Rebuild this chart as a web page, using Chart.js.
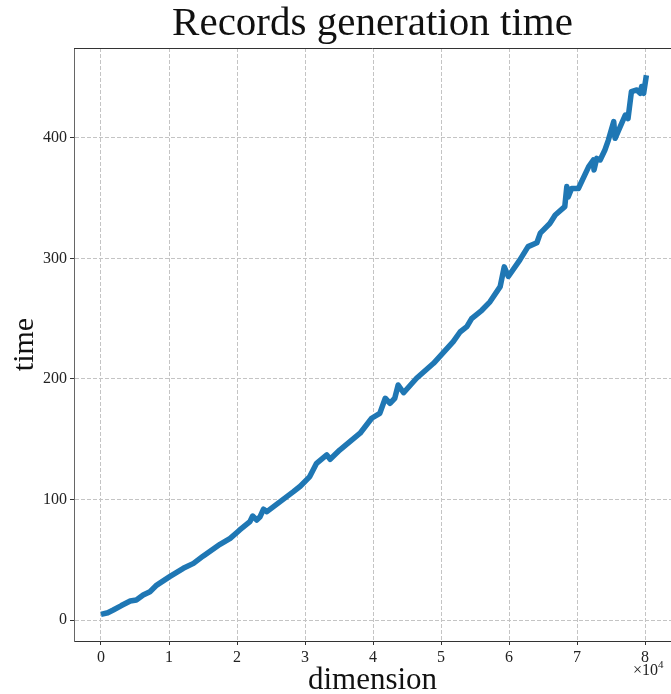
<!DOCTYPE html>
<html lang="en">
<head>
    <meta charset="UTF-8">
    <title>Records generation time</title>
    <script src="https://cdn.jsdelivr.net/npm/chart.js"></script>
    <style>
        body { margin: 0; padding: 0; background: #fff; }
        #wrap { width: 671px; height: 694px; position: relative; }
    </style>
</head>
<body>
    <div id="wrap"><canvas id="myChart"></canvas></div>

    <script>
        // datos (dimension en unidades de 10^4)
        var dimension = [0.00, 0.10, 0.18, 0.30, 0.43, 0.52, 0.62, 0.72, 0.82, 1.01,
            1.21, 1.36, 1.50, 1.75, 1.90, 2.04, 2.19, 2.23, 2.29, 2.34,
            2.39, 2.44, 2.63, 2.83, 2.93, 3.07, 3.17, 3.32, 3.37, 3.51,
            3.81, 3.98, 4.10, 4.18, 4.25, 4.32, 4.37, 4.45, 4.64, 4.89,
            5.18, 5.28, 5.38, 5.45, 5.60, 5.72, 5.87, 5.93, 5.99, 6.16,
            6.28, 6.41, 6.46, 6.60, 6.68, 6.82, 6.85, 6.87, 6.92, 7.02,
            7.17, 7.24, 7.25, 7.29, 7.34, 7.41, 7.46, 7.54, 7.56, 7.71,
            7.75, 7.80, 7.88, 7.93, 7.95, 7.98, 8.02];
        var time = [4.7, 6.0, 8.3, 12.0, 15.8, 16.6, 20.7, 23.5, 29.0, 36.0,
            42.9, 47.0, 53.0, 62.8, 67.8, 74.7, 81.6, 86.3, 83.0, 85.7,
            92.0, 89.9, 98.0, 106.5, 111.0, 119.0, 130.0, 137.0, 133.4, 141.0,
            155.0, 167.4, 171.5, 184.0, 179.8, 184.0, 195.0, 188.6, 200.6, 213.0,
            231.0, 239.0, 243.4, 250.0, 257.0, 264.0, 276.6, 293.0, 285.0, 298.8,
            309.8, 313.0, 321.0, 329.0, 336.0, 343.0, 359.6, 351.0, 358.0, 358.0,
            376.0, 381.7, 373.4, 383.0, 381.7, 390.0, 398.0, 413.5, 399.7, 419.0,
            416.0, 438.4, 439.8, 437.0, 442.6, 437.0, 452.0];
        var xTicks = [0, 1, 2, 3, 4, 5, 6, 7, 8];
        var yTicks = [0, 100, 200, 300, 400];

        var serif = "'Liberation Serif', 'DejaVu Serif', serif";
        var puntos = dimension.map(function (d, i) { return { x: d * 1e4, y: time[i] }; });

        // marco superior y texto del exponente
        var extras = {
            id: 'extras',
            afterDraw: function (chart) {
                var c = chart.ctx, a = chart.chartArea;
                c.save();
                c.strokeStyle = '#333';
                c.lineWidth = 1;
                c.beginPath();
                c.moveTo(a.left, a.top + 0.5);
                c.lineTo(a.right, a.top + 0.5);
                c.stroke();
                c.fillStyle = '#222';
                c.textBaseline = 'alphabetic';
                c.font = '16px ' + serif;
                c.fillText('\u00d710', 633, 675);
                var w = c.measureText('\u00d710').width;
                c.font = '11px ' + serif;
                c.fillText('4', 633 + w, 668);
                c.restore();
            }
        };

        var rejilla = {
            color: '#c4c4c4',
            lineWidth: 1,
            tickLength: 4,
            tickColor: '#333',
            tickBorderDash: []
        };

        var ctx = document.getElementById('myChart').getContext('2d');
        var myChart = new Chart(ctx, {
            type: 'line',
            data: {
                datasets: [{
                    label: 'time',
                    data: puntos,
                    borderColor: '#1f77b4',
                    backgroundColor: '#1f77b4',
                    borderWidth: 5.5,
                    pointRadius: 0,
                    tension: 0,
                    borderJoinStyle: 'round',
                    fill: false
                }]
            },
            options: {
                responsive: true,
                maintainAspectRatio: false,
                animation: false,
                layout: { padding: 0 },
                plugins: {
                    legend: { display: false },
                    tooltip: { enabled: false },
                    title: {
                        display: true,
                        text: 'Records generation time',
                        fullSize: false,
                        color: '#111',
                        font: { family: serif, size: 41, weight: 'normal', lineHeight: 1 },
                        padding: { top: 4, bottom: 3 }
                    }
                },
                scales: {
                    x: {
                        type: 'linear',
                        min: -0.397e4,
                        max: 8.382e4,
                        afterFit: function (s) { s.height = 53; },
                        afterBuildTicks: function (s) {
                            s.ticks = xTicks.map(function (v) { return { value: v * 1e4 }; });
                        },
                        ticks: {
                            color: '#222',
                            font: { family: serif, size: 16 },
                            padding: 3,
                            maxRotation: 0,
                            callback: function (v) { return String(Math.round(v / 1e4)); }
                        },
                        grid: rejilla,
                        border: { display: true, color: '#333', width: 1, dash: [4, 2] },
                        title: {
                            display: true,
                            text: 'dimension',
                            color: '#111',
                            font: { family: serif, size: 31, lineHeight: 1 },
                            padding: { top: 0, bottom: -2 }
                        }
                    },
                    y: {
                        min: -17.4,
                        max: 474.6,
                        afterFit: function (s) { s.width = 74; },
                        afterBuildTicks: function (s) {
                            s.ticks = yTicks.map(function (v) { return { value: v }; });
                        },
                        ticks: {
                            color: '#222',
                            font: { family: serif, size: 16 },
                            padding: 3
                        },
                        grid: rejilla,
                        border: { display: true, color: '#666', width: 1, dash: [4, 2] },
                        title: {
                            display: true,
                            text: 'time',
                            color: '#111',
                            font: { family: serif, size: 30, lineHeight: 1 },
                            padding: { top: 10, bottom: 0 }
                        }
                    }
                }
            },
            plugins: [extras]
        });
    </script>
</body>
</html>
